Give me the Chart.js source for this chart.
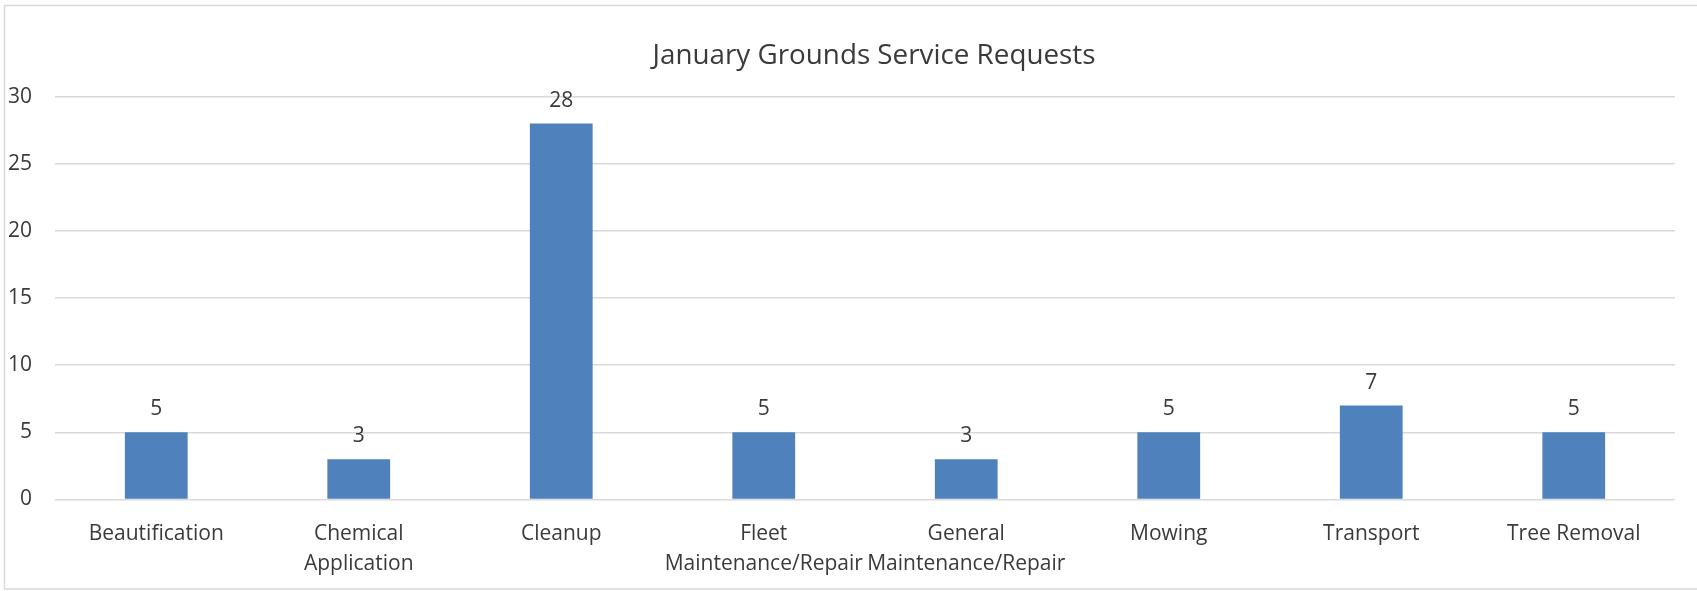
<!DOCTYPE html>
<html>
<head>
<meta charset="utf-8">
<script src="https://cdn.jsdelivr.net/npm/chart.js@4/dist/chart.umd.min.js"></script>
<style>
  html, body { margin: 0; padding: 0; background: #fff; }
  #wrap { width: 1697px; height: 591px; position: relative; }
</style>
</head>
<body>
<div id="wrap"><canvas id="c" width="1697" height="591"></canvas></div>
<script>
const title = "January Grounds Service Requests";
const categories = [
  "Beautification",
  ["Chemical", "Application"],
  "Cleanup",
  ["Fleet", "Maintenance/Repair"],
  ["General", "Maintenance/Repair"],
  "Mowing",
  "Transport",
  "Tree Removal"
];
const requests = [5, 3, 28, 5, 3, 5, 7, 5];
const yTicks = [0, 5, 10, 15, 20, 25, 30];

const FONT = "'Open Sans', sans-serif";
const TEXT = "#3a3a3a";

const framePlugin = {
  id: 'frame',
  beforeDraw(chart) {
    const ctx = chart.ctx;
    ctx.save();
    ctx.fillStyle = '#fff';
    ctx.fillRect(0, 0, chart.width, chart.height);
    ctx.strokeStyle = '#D9D9D9';
    ctx.lineWidth = 1.5;
    ctx.strokeRect(4.5, 5.5, 1720, 583.5);
    ctx.restore();
  },
  afterDraw(chart) {
    const ctx = chart.ctx;
    ctx.save();
    ctx.fillStyle = TEXT;
    ctx.font = "27.8px " + FONT;
    ctx.textAlign = 'center';
    ctx.textBaseline = 'alphabetic';
    ctx.fillText(title, 874, 63.5);
    ctx.restore();
  }
};

const valueLabels = {
  id: 'valueLabels',
  afterDatasetsDraw(chart) {
    const ctx = chart.ctx;
    const meta = chart.getDatasetMeta(0);
    ctx.save();
    ctx.fillStyle = TEXT;
    ctx.font = "21px " + FONT;
    ctx.textAlign = 'center';
    ctx.textBaseline = 'alphabetic';
    meta.data.forEach((bar, i) => {
      ctx.fillText(String(chart.data.datasets[0].data[i]), bar.x, bar.y - 17);
    });
    ctx.restore();
  }
};

new Chart(document.getElementById('c'), {
  type: 'bar',
  data: {
    labels: categories,
    datasets: [{
      data: requests,
      backgroundColor: '#4F81BD',
      borderWidth: 0,
      barPercentage: 0.31,
      categoryPercentage: 1.0
    }]
  },
  options: {
    responsive: false,
    animation: false,
    devicePixelRatio: 1,
    layout: { padding: { top: 96.7, right: 22, bottom: 0, left: 0 } },
    plugins: {
      legend: { display: false },
      title: { display: false },
      tooltip: { enabled: false }
    },
    scales: {
      x: {
        grid: { display: false, drawTicks: false },
        border: { display: false },
        ticks: {
          color: TEXT,
          font: { family: FONT, size: 21, lineHeight: 1.4 },
          padding: 20,
          maxRotation: 0,
          autoSkip: false
        },
        afterFit(scale) { scale.height = 591 - 499.5; }
      },
      y: {
        min: 0,
        max: 30,
        afterBuildTicks(scale) { scale.ticks = yTicks.map(v => ({ value: v })); },
        grid: { color: '#D9D9D9', lineWidth: 1.5, drawTicks: false },
        border: { display: false },
        ticks: {
          color: TEXT,
          font: { family: FONT, size: 21 },
          padding: 23
        },
        afterFit(scale) { scale.width = 55; }
      }
    }
  },
  plugins: [framePlugin, valueLabels]
});
</script>
</body>
</html>
